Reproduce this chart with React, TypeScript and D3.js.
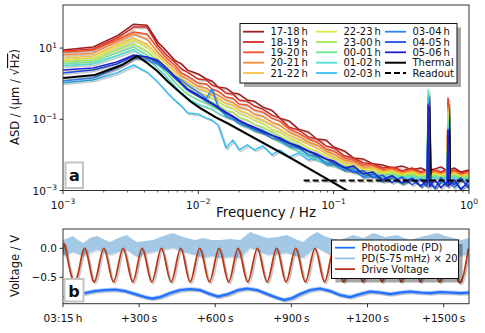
import * as d3 from "d3";

// shared frequency grid of the hourly spectra (mHz)
const freqMHz = [1, 1.67, 2.5, 3.33, 4.17, 5, 5.83, 6.67, 7.5, 8.33, 10, 11.5, 12.6, 14, 16, 18, 20, 23, 26, 30, 35, 40, 47, 55, 65, 75, 88, 100, 120, 140, 165, 195, 230, 270, 320, 380, 440, 490, 500, 510, 560, 620, 690, 700, 710, 780, 870, 1000];

const hourLabels = ["17-18\u2009h", "18-19\u2009h", "19-20\u2009h", "20-21\u2009h", "21-22\u2009h", "22-23\u2009h", "23-00\u2009h", "00-01\u2009h", "01-02\u2009h", "02-03\u2009h", "03-04\u2009h", "04-05\u2009h", "05-06\u2009h"];
const hourColors = ["#9e1d1d", "#d62a22", "#f2512a", "#f78a3a", "#f5c23e", "#d9e646", "#a3e955", "#6ee597", "#4ddfcf", "#36bff5", "#2a86f7", "#2452ea", "#1c22cf"];

const asd1718 = [8.8, 10.7, 21.8, 47, 44, 14.8, 8.2, 4.6, 3.6, 2.4, 1.87, 1.35, 1.19, 0.81, 0.75, 0.55, 0.51, 0.35, 0.32, 0.22, 0.18, 0.108, 0.089, 0.053, 0.044, 0.028, 0.026, 0.0167, 0.0129, 0.0082, 0.0077, 0.0056, 0.0052, 0.0043, 0.0049, 0.0038, 0.0043, 0.0036, 0.069, 0.0038, 0.004, 0.0046, 0.0036, 0.3, 0.0038, 0.0043, 0.0033, 0.0038];
const asd1819 = [8.2, 9.4, 19.1, 38.9, 38.9, 12.2, 6.4, 4.05, 2.58, 2.12, 1.35, 1.27, 0.92, 0.81, 0.55, 0.51, 0.35, 0.32, 0.235, 0.193, 0.131, 0.108, 0.06, 0.05, 0.032, 0.028, 0.0178, 0.0157, 0.0094, 0.0082, 0.006, 0.0056, 0.0043, 0.0046, 0.0036, 0.0043, 0.0033, 0.0038, 0.083, 0.0033, 0.0038, 0.0033, 0.004, 0.39, 0.0033, 0.0038, 0.0031, 0.0036];
const asd1920 = [7.7, 8.8, 16.8, 28.2, 24.8, 10.0, 5.2, 3.34, 1.99, 1.64, 1.04, 0.98, 0.71, 0.62, 0.42, 0.39, 0.267, 0.25, 0.181, 0.159, 0.108, 0.089, 0.053, 0.041, 0.028, 0.0231, 0.0147, 0.0129, 0.0082, 0.0072, 0.0052, 0.0052, 0.0038, 0.0043, 0.0033, 0.0038, 0.0031, 0.0036, 0.108, 0.0031, 0.0036, 0.0031, 0.0036, 0.285, 0.0031, 0.0036, 0.0029, 0.0033];
const asd2021 = [6.4, 7.2, 14.8, 24.8, 17.9, 7.7, 4.3, 2.75, 1.64, 1.35, 0.86, 0.75, 0.58, 0.48, 0.35, 0.3, 0.22, 0.193, 0.14, 0.123, 0.083, 0.069, 0.044, 0.034, 0.0231, 0.019, 0.0129, 0.0106, 0.0072, 0.0064, 0.0046, 0.0046, 0.0036, 0.0038, 0.0031, 0.0036, 0.0029, 0.0033, 0.149, 0.0029, 0.0033, 0.0029, 0.0033, 0.235, 0.0029, 0.0033, 0.0027, 0.0031];
const asd2122 = [5.2, 6.0, 12.2, 19.1, 13.0, 6.4, 3.56, 2.26, 1.35, 1.11, 0.71, 0.62, 0.48, 0.39, 0.285, 0.25, 0.181, 0.149, 0.115, 0.095, 0.069, 0.053, 0.036, 0.028, 0.0203, 0.0157, 0.0113, 0.0088, 0.0064, 0.0056, 0.004, 0.0043, 0.0033, 0.0036, 0.0029, 0.0033, 0.0027, 0.0031, 0.206, 0.0027, 0.0031, 0.0027, 0.0031, 0.181, 0.0027, 0.0031, 0.0026, 0.0029];
const asd2223 = [4.6, 5.2, 10.7, 16.8, 10.7, 5.2, 2.93, 1.87, 1.11, 0.86, 0.58, 0.48, 0.39, 0.32, 0.235, 0.206, 0.149, 0.123, 0.095, 0.078, 0.053, 0.044, 0.03, 0.0231, 0.0157, 0.0129, 0.0094, 0.0077, 0.0056, 0.0049, 0.0038, 0.0038, 0.0031, 0.0033, 0.0027, 0.0031, 0.0026, 0.0029, 0.35, 0.0026, 0.0029, 0.0026, 0.0029, 0.149, 0.0026, 0.0029, 0.0024, 0.0027];
const asd2300 = [4.05, 4.6, 8.8, 13.0, 8.2, 4.3, 2.42, 1.44, 0.92, 0.66, 0.45, 0.37, 0.3, 0.25, 0.181, 0.159, 0.115, 0.095, 0.073, 0.06, 0.044, 0.034, 0.0246, 0.019, 0.0129, 0.0106, 0.0077, 0.0064, 0.0049, 0.0043, 0.0033, 0.0033, 0.0029, 0.0031, 0.0026, 0.0029, 0.0024, 0.0027, 0.51, 0.0024, 0.0027, 0.0024, 0.0026, 0.123, 0.0024, 0.0027, 0.0023, 0.0026];
const asd0001 = [3.56, 4.05, 7.2, 10.7, 6.4, 3.56, 1.99, 1.11, 0.71, 0.51, 0.35, 0.285, 0.235, 0.193, 0.14, 0.123, 0.089, 0.073, 0.057, 0.05, 0.036, 0.028, 0.0203, 0.0157, 0.0106, 0.0088, 0.0064, 0.0056, 0.0043, 0.0038, 0.0029, 0.0029, 0.0026, 0.0027, 0.0024, 0.0026, 0.0023, 0.0026, 0.66, 0.0023, 0.0026, 0.0023, 0.0024, 0.095, 0.0023, 0.0026, 0.0021, 0.0024];
const asd0102 = [3.13, 3.56, 5.97, 8.8, 5.2, 2.75, 1.54, 0.86, 0.55, 0.39, 0.267, 0.22, 0.193, 0.149, 0.115, 0.101, 0.073, 0.06, 0.047, 0.041, 0.03, 0.0231, 0.0167, 0.0129, 0.0088, 0.0072, 0.0056, 0.0049, 0.0038, 0.0033, 0.0027, 0.0026, 0.0024, 0.0024, 0.0023, 0.0024, 0.0021, 0.0023, 0.48, 0.0021, 0.0023, 0.0021, 0.0023, 0.069, 0.0021, 0.0023, 0.002, 0.0021];
const asd0203 = [1.04, 1.27, 1.99, 3.34, 2.12, 1.11, 0.58, 0.35, 0.235, 0.149, 0.14, 0.108, 0.095, 0.069, 0.0157, 0.026, 0.0138, 0.019, 0.0138, 0.0178, 0.01, 0.0138, 0.0088, 0.0113, 0.0072, 0.0088, 0.0052, 0.006, 0.004, 0.0046, 0.0023, 0.0026, 0.00176, 0.0021, 0.00155, 0.002, 0.00136, 0.00176, 0.39, 0.00145, 0.00127, 0.00165, 0.00136, 0.057, 0.00155, 0.00165, 0.00119, 0.00145];
const asd0304 = [1.19, 1.44, 2.75, 5.24, 4.61, 3.56, 2.42, 1.64, 1.27, 0.92, 0.58, 0.39, 0.71, 0.22, 0.123, 0.101, 0.078, 0.064, 0.05, 0.041, 0.03, 0.026, 0.0178, 0.0157, 0.01, 0.0094, 0.006, 0.0056, 0.0036, 0.0038, 0.0024, 0.0029, 0.0019, 0.0026, 0.00155, 0.0023, 0.00127, 0.002, 0.25, 0.00165, 0.00119, 0.0021, 0.00136, 0.05, 0.00176, 0.00119, 0.002, 0.00127];
const asd0405 = [1.99, 2.42, 3.56, 5.97, 5.59, 4.05, 2.42, 1.44, 0.98, 0.66, 0.45, 0.32, 0.267, 0.206, 0.149, 0.115, 0.089, 0.069, 0.057, 0.044, 0.036, 0.028, 0.0216, 0.0167, 0.0129, 0.01, 0.0077, 0.006, 0.0046, 0.0033, 0.0036, 0.0023, 0.0027, 0.00165, 0.0024, 0.00145, 0.0021, 0.00127, 0.267, 0.0019, 0.00112, 0.0023, 0.00136, 0.044, 0.002, 0.00145, 0.0023, 0.00112];
const asd0506 = [2.42, 2.75, 4.05, 6.37, 5.59, 4.61, 2.75, 1.64, 1.04, 0.71, 0.48, 0.35, 0.285, 0.22, 0.159, 0.123, 0.095, 0.073, 0.06, 0.047, 0.036, 0.03, 0.0216, 0.0178, 0.0129, 0.0106, 0.0077, 0.0068, 0.0043, 0.0049, 0.0029, 0.0033, 0.002, 0.0026, 0.00165, 0.0021, 0.00136, 0.0019, 0.235, 0.00127, 0.002, 0.00119, 0.00176, 0.05, 0.00136, 0.002, 0.00105, 0.0019];
const hourSeries = [asd1718, asd1819, asd1920, asd2021, asd2122, asd2223, asd2300, asd0001, asd0102, asd0203, asd0304, asd0405, asd0506];

const thermalFreqMHz = [1.0, 1.72, 2.73, 3.53, 4.19, 4.97, 5.89, 6.99, 8.72, 10.35, 13.4, 16.4, 24.3, 48, 127];
const thermalAsd = [1.44, 1.75, 3.34, 5.97, 3.8, 2.26, 1.19, 0.66, 0.32, 0.206, 0.115, 0.078, 0.034, 0.0082, 0.00098];
const readoutFreqMHz = [60, 1000];
const readoutAsd = [0.0019, 0.0019];

// time traces, seconds after 03:15 h
const pdTime = [0, 47, 87, 126, 166, 205, 245, 284, 323, 351, 383, 422, 461, 501, 540, 580, 611, 651, 690, 726, 765, 805, 836, 871, 903, 934, 974, 1013, 1053, 1092, 1132, 1171, 1210, 1250, 1289, 1329, 1368, 1408, 1447, 1487, 1526, 1566, 1600];
const pdVolt = [-0.84, -0.805, -0.771, -0.736, -0.719, -0.71, -0.736, -0.788, -0.84, -0.866, -0.84, -0.771, -0.719, -0.702, -0.719, -0.788, -0.831, -0.788, -0.719, -0.693, -0.719, -0.788, -0.84, -0.891, -0.857, -0.788, -0.719, -0.693, -0.736, -0.805, -0.84, -0.788, -0.745, -0.762, -0.788, -0.762, -0.745, -0.762, -0.771, -0.753, -0.762, -0.771, -0.762];

const bandTime = [0, 20, 39, 59, 79, 106, 134, 158, 185, 217, 252, 272, 292, 323, 355, 394, 434, 461, 489, 520, 552, 587, 619, 658, 698, 718, 737, 769, 805, 844, 883, 915, 946, 974, 1002, 1029, 1053, 1092, 1144, 1183, 1223, 1270, 1317, 1345, 1369, 1408, 1475, 1507, 1538, 1570, 1600];
const bandTop = [0.143, 0.178, 0.212, 0.143, 0.091, 0.178, 0.212, 0.16, 0.109, 0.178, 0.229, 0.16, 0.109, 0.126, 0.143, 0.212, 0.264, 0.212, 0.178, 0.143, 0.178, 0.143, 0.143, 0.16, 0.143, 0.212, 0.281, 0.229, 0.178, 0.195, 0.229, 0.16, 0.109, 0.212, 0.281, 0.212, 0.178, 0.143, 0.229, 0.178, 0.264, 0.195, 0.229, 0.178, 0.143, 0.195, 0.264, 0.212, 0.178, 0.143, 0.178];
const bandBottom = [-0.15, -0.098, -0.064, -0.098, -0.133, -0.081, -0.029, -0.064, -0.116, -0.064, -0.029, -0.098, -0.15, -0.098, -0.064, -0.029, 0.005, -0.047, -0.081, -0.116, -0.167, -0.133, -0.167, -0.15, -0.167, -0.081, 0.005, -0.047, -0.116, -0.098, -0.081, -0.133, -0.167, -0.064, 0.005, -0.064, -0.116, -0.133, -0.064, -0.098, -0.029, -0.081, -0.064, -0.098, -0.133, -0.081, -0.029, -0.064, -0.098, -0.133, -0.098];

const driveTime = [0, 10, 48, 86, 123, 161, 199, 237, 275, 312, 350, 388, 426, 464, 501, 539, 577, 615, 653, 690, 728, 766, 804, 842, 879, 917, 955, 993, 1031, 1068, 1106, 1144, 1182, 1220, 1257, 1295, 1333, 1371, 1409, 1446, 1484, 1522, 1560, 1598];
const driveVolt = [-0.09, 0, -0.58, 0, -0.58, 0, -0.58, 0, -0.58, 0, -0.58, 0, -0.58, 0, -0.58, 0, -0.58, 0, -0.58, 0, -0.58, 0, -0.58, 0, -0.58, 0, -0.58, 0, -0.58, 0, -0.58, 0, -0.58, 0, -0.58, 0, -0.58, 0, -0.58, 0, -0.58, 0, -0.58, 0];

const topTicksX = [1e-3, 1e-2, 1e-1, 1];
const topTickExpX = ["\u22123", "\u22122", "\u22121", "0"];
const topTicksY = [1e-3, 1e-1, 10];
const topTickExpY = ["\u22123", "\u22121", "1"];
const timeTicks = [0, 300, 600, 900, 1200, 1500];
const timeTickLabels = ["03:15\u2009h", "+300\u2009s", "+600\u2009s", "+900\u2009s", "+1200\u2009s", "+1500\u2009s"];
const voltTicks = [0, -0.5];
const voltTickLabels = ["0.0", "\u22120.5"];

const FONT = "DejaVu Sans, sans-serif";
const top = { l: 63, r: 469, t: 5, b: 190.5 };
const bot = { l: 63, r: 469, t: 229, b: 303.7 };

export default function App() {
  const x = d3.scaleLog().domain([1e-3, 1]).range([top.l, top.r]);
  const y = d3.scaleLog().domain([1e-3, 162]).range([top.b, top.t]);
  const xt = d3.scaleLinear().domain([0, 1600]).range([bot.l, bot.r]);
  const yv = d3.scaleLinear().domain([-0.955, 0.333]).range([bot.b, bot.t]);

  const spec = d3
    .line<[number, number]>()
    .x((d) => x(d[0] / 1000))
    .y((d) => y(d[1]));
  const drivePath = d3
    .line<[number, number]>()
    .x((d) => xt(d[0]))
    .y((d) => yv(d[1]))
    .curve(d3.curveNatural)(driveTime.map((t, i) => [t, driveVolt[i]]));
  const bandPath = d3
    .area<number>()
    .x((_, i) => xt(bandTime[i]))
    .y0((_, i) => yv(bandBottom[i]))
    .y1((_, i) => yv(bandTop[i]))(bandTime);
  const pdPath = d3
    .line<[number, number]>()
    .x((d) => xt(d[0]))
    .y((d) => yv(d[1]))(pdTime.map((t, i) => [t, pdVolt[i]]));

  const minorX: number[] = [];
  [1e-3, 1e-2, 1e-1].forEach((dec) => d3.range(2, 10).forEach((k) => minorX.push(dec * k)));

  const hourPaths = hourSeries.map((vals) => spec(freqMHz.map((f, i) => [f, vals[i]])));
  const thermalPath = spec(thermalFreqMHz.map((f, i) => [f, thermalAsd[i]]));
  const readoutPath = spec(readoutFreqMHz.map((f, i) => [f, readoutAsd[i]]));

  const shadow = (d: string | null, w: number, key: string, dash?: string) => (
    <path key={key} d={d || ""} fill="none" stroke="#000" strokeOpacity={0.22} strokeWidth={w} strokeDasharray={dash} transform="translate(1.5,1.5)" />
  );

  const legendRowsTop = [31.7, 42, 52.3, 62.7, 73];
  const legendColsTop = [243, 316, 385];
  const legendItems = [
    ...hourLabels.map((label, i) => ({ label, color: hourColors[i], dash: undefined as string | undefined, w: 1.8 })),
    { label: "Thermal", color: "#000", dash: undefined, w: 2 },
    { label: "Readout", color: "#000", dash: "6,3", w: 2 },
  ];

  const botLegend = [
    { label: "Photodiode (PD)", color: "#1f6fff" },
    { label: "PD(5-75\u2009mHz) \u00d7 20", color: "#93c0e0" },
    { label: "Drive Voltage", color: "#b8381a" },
  ];

  return (
    <div style={{ position: "absolute", left: 0, top: 0 }}>
      <svg width={485} height={333} style={{ display: "block", background: "#fff" }} fontFamily={FONT}>
        <defs>
          <clipPath id="clipTop">
            <rect x={top.l} y={top.t} width={top.r - top.l} height={top.b - top.t} />
          </clipPath>
          <clipPath id="clipBot">
            <rect x={bot.l} y={bot.t} width={bot.r - bot.l} height={bot.b - bot.t} />
          </clipPath>
        </defs>

        {/* ---------- panel a: spectra ---------- */}
        <g clipPath="url(#clipTop)">
          {hourPaths.map((d, i) => (
            <g key={i}>
              {shadow(d, 1.5, "s" + i)}
              <path d={d || ""} fill="none" stroke={hourColors[i]} strokeWidth={1.5} strokeLinejoin="round" />
            </g>
          ))}
          {shadow(thermalPath, 2, "st")}
          <path d={thermalPath || ""} fill="none" stroke="#000" strokeWidth={2} />
          {shadow(readoutPath, 2, "sr", "6,3")}
          <path d={readoutPath || ""} fill="none" stroke="#000" strokeWidth={2} strokeDasharray="6,3" />
        </g>

        <rect x={top.l} y={top.t} width={top.r - top.l} height={top.b - top.t} fill="none" stroke="#333" strokeWidth={1} />
        {topTicksX.map((t, i) => (
          <g key={"tx" + i}>
            <line x1={x(t)} x2={x(t)} y1={top.b} y2={top.b + 3.5} stroke="#333" />
            <text x={x(t)} y={208.5} textAnchor="middle" fontSize={10.5} fill="#111">
              10<tspan dy={-4.5} fontSize={7.5}>{topTickExpX[i]}</tspan>
            </text>
          </g>
        ))}
        {minorX.map((t, i) => (
          <line key={"mx" + i} x1={x(t)} x2={x(t)} y1={top.b} y2={top.b + 2} stroke="#333" strokeWidth={0.8} />
        ))}
        {topTicksY.map((t, i) => (
          <g key={"ty" + i}>
            <line x1={top.l - 3.5} x2={top.l} y1={y(t)} y2={y(t)} stroke="#333" />
            <text x={top.l - 6} y={y(t) + 4} textAnchor="end" fontSize={10.5} fill="#111">
              10<tspan dy={-4.5} fontSize={7.5}>{topTickExpY[i]}</tspan>
            </text>
          </g>
        ))}
        <text x={266} y={216.5} textAnchor="middle" fontSize={13.5} fill="#111">
          Frequency / Hz
        </text>
        <text transform="translate(19,97) rotate(-90)" textAnchor="middle" fontSize={11.5} fill="#111">
          ASD / (μm / √<tspan style={{ textDecoration: "overline" }}>Hz</tspan>)
        </text>

        {/* legend a */}
        <rect x={244} y={27.5} width={217} height={59.5} fill="#000" opacity={0.35} />
        <rect x={240} y={23.5} width={217} height={59.5} fill="#fff" stroke="#111" strokeWidth={1} />
        {legendItems.map((item, i) => {
          const col = Math.floor(i / 5);
          const row = i % 5;
          const x0 = legendColsTop[col];
          const yy = legendRowsTop[row];
          return (
            <g key={"lg" + i}>
              <line x1={x0} x2={x0 + 21} y1={yy} y2={yy} stroke={item.color} strokeWidth={item.w} strokeDasharray={item.dash} />
              <text x={x0 + 27.5} y={yy + 3.6} fontSize={10} fill="#111">
                {item.label}
              </text>
            </g>
          );
        })}

        <rect x={65.5} y={162.5} width={17.5} height={25.5} fill="#fff" stroke="#c4c4c4" strokeWidth={2} />
        <text x={74.3} y={180.5} textAnchor="middle" fontSize={16} fontWeight="bold" fill="#111">
          a
        </text>

        {/* ---------- panel b: time traces ---------- */}
        <g clipPath="url(#clipBot)">
          <path d={pdPath || ""} fill="none" stroke="#000" strokeOpacity={0.2} strokeWidth={2.6} transform="translate(1.5,1.5)" />
          <path d={pdPath || ""} fill="none" stroke="#1f6fff" strokeOpacity={0.35} strokeWidth={4} />
          <path d={pdPath || ""} fill="none" stroke="#1f6fff" strokeWidth={2.2} />
          <path d={bandPath || ""} fill="#000" opacity={0.1} transform="translate(1.5,1.5)" />
          <path d={bandPath || ""} fill="#a3c9e6" />
          <path d={drivePath || ""} fill="none" stroke="#000" strokeOpacity={0.22} strokeWidth={1.8} transform="translate(1.5,1.5)" />
          <path d={drivePath || ""} fill="none" stroke="#b8381a" strokeWidth={1.8} />
        </g>
        <rect x={bot.l} y={bot.t} width={bot.r - bot.l} height={bot.b - bot.t} fill="none" stroke="#333" strokeWidth={1} />
        {timeTicks.map((t, i) => (
          <g key={"tt" + i}>
            <line x1={xt(t)} x2={xt(t)} y1={bot.b} y2={bot.b + 3.5} stroke="#333" />
            <text x={xt(t)} y={321.5} textAnchor="middle" fontSize={10.5} fill="#111">
              {timeTickLabels[i]}
            </text>
          </g>
        ))}
        {voltTicks.map((t, i) => (
          <g key={"vt" + i}>
            <line x1={bot.l - 3.5} x2={bot.l} y1={yv(t)} y2={yv(t)} stroke="#333" />
            <text x={bot.l - 6} y={yv(t) + 4} textAnchor="end" fontSize={10.5} fill="#111">
              {voltTickLabels[i]}
            </text>
          </g>
        ))}
        <text transform="translate(19,266) rotate(-90)" textAnchor="middle" fontSize={11.5} fill="#111">
          Voltage / V
        </text>

        {/* legend b */}
        <rect x={335.5} y={244} width={127} height={38.5} fill="#000" opacity={0.35} />
        <rect x={331.5} y={240} width={127} height={38.5} fill="#fff" stroke="#111" strokeWidth={1} />
        {botLegend.map((item, i) => {
          const yy = 247.7 + i * 10.7;
          return (
            <g key={"bl" + i}>
              <line x1={335} x2={355} y1={yy} y2={yy} stroke={item.color} strokeWidth={1.8} />
              <text x={361.5} y={yy + 3.6} fontSize={10} fill="#111">
                {item.label}
              </text>
            </g>
          );
        })}

        <rect x={64.5} y={279} width={19} height={22.5} fill="#fff" stroke="#c4c4c4" strokeWidth={2} />
        <text x={74} y={296.5} textAnchor="middle" fontSize={16} fontWeight="bold" fill="#111">
          b
        </text>
      </svg>
    </div>
  );
}
